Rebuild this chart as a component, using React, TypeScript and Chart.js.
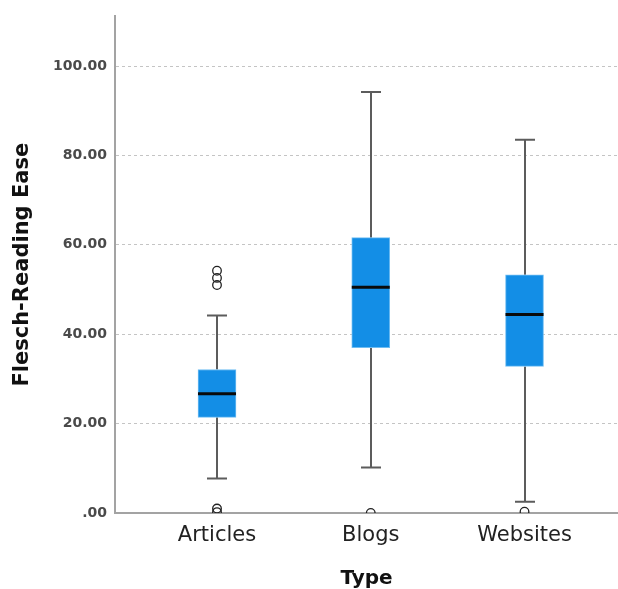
import React, { useEffect, useRef } from 'react';
import { Chart, registerables } from 'chart.js';

Chart.register(...registerables);

const categories = ['Articles', 'Blogs', 'Websites'];
const whiskerLow = [7.7, 10.2, 2.5];
const q1 = [21.4, 37.0, 32.8];
const median = [26.7, 50.5, 44.4];
const q3 = [32.1, 61.6, 53.3];
const whiskerHigh = [44.2, 94.2, 83.5];
const outliersArticles = [54.2, 52.6, 51.0, 1.0, 0.2];
const outliersBlogs = [0.0];
const outliersWebsites = [0.3];
const yTicks = [0, 20, 40, 60, 80, 100];
const yMax = 111.1;

const FONT = '"DejaVu Sans", sans-serif';

const boxPlugin = {
  id: 'boxWhiskers',
  beforeDatasetsDraw(chart: any) {
    const { ctx, scales } = chart;
    const x = scales.x;
    const y = scales.y;
    ctx.save();
    ctx.strokeStyle = '#5c5c5c';
    ctx.lineWidth = 2;
    categories.forEach((_, i) => {
      const px = Math.round(x.getPixelForValue(i + 1));
      const yHi = y.getPixelForValue(whiskerHigh[i]);
      const yQ3 = y.getPixelForValue(q3[i]);
      const yQ1 = y.getPixelForValue(q1[i]);
      const yLo = y.getPixelForValue(whiskerLow[i]);
      ctx.beginPath();
      ctx.moveTo(px, yQ3);
      ctx.lineTo(px, yHi);
      ctx.moveTo(px - 10, yHi);
      ctx.lineTo(px + 10, yHi);
      ctx.moveTo(px, yQ1);
      ctx.lineTo(px, yLo);
      ctx.moveTo(px - 10, yLo);
      ctx.lineTo(px + 10, yLo);
      ctx.stroke();
    });
    ctx.restore();
  },
  afterDatasetsDraw(chart: any) {
    const { ctx, scales } = chart;
    const x = scales.x;
    const y = scales.y;
    ctx.save();
    ctx.strokeStyle = '#0a0a0a';
    ctx.lineWidth = 3;
    categories.forEach((_, i) => {
      const px = x.getPixelForValue(i + 1);
      const ym = y.getPixelForValue(median[i]);
      ctx.beginPath();
      ctx.moveTo(px - 19, ym);
      ctx.lineTo(px + 19, ym);
      ctx.stroke();
    });
    ctx.restore();
  },
};

export default function App() {
  const ref = useRef<HTMLCanvasElement | null>(null);

  useEffect(() => {
    if (!ref.current) return;
    const outlierPoints = [
      ...outliersArticles.map((v) => ({ x: 1, y: v })),
      ...outliersBlogs.map((v) => ({ x: 2, y: v })),
      ...outliersWebsites.map((v) => ({ x: 3, y: v })),
    ];
    const chart = new Chart(ref.current, {
      type: 'bar',
      data: {
        datasets: [
          {
            type: 'bar',
            data: categories.map((_, i) => ({ x: i + 1, y: [q1[i], q3[i]] })) as any,
            backgroundColor: '#138ee6',
            borderColor: '#6fbdf2',
            borderWidth: 1,
            borderSkipped: false,
            barThickness: 38,
            order: 2,
          } as any,
          {
            type: 'scatter',
            data: outlierPoints,
            pointStyle: 'circle',
            pointRadius: 4.3,
            pointBorderWidth: 1.3,
            pointBorderColor: '#222',
            pointBackgroundColor: 'rgba(255,255,255,0)',
            clip: 0,
            order: 1,
          } as any,
        ],
      },
      options: {
        responsive: false,
        animation: false,
        layout: { autoPadding: false, padding: { top: 13, right: 0, left: 0, bottom: 0 } },
        plugins: { legend: { display: false }, tooltip: { enabled: false } },
        scales: {
          x: {
            type: 'linear',
            offset: false,
            min: 0.3366,
            max: 3.608,
            afterBuildTicks: (scale: any) => {
              scale.ticks = categories.map((_, i) => ({ value: i + 1 }));
            },
            afterFit: (scale: any) => {
              scale.height = 76;
              scale.paddingLeft = 0;
              scale.paddingRight = 0;
            },
            grid: { display: false, drawTicks: false, offset: false },
            border: { display: true, color: '#a3a3a3', width: 2 },
            ticks: {
              padding: 10,
              color: '#222',
              font: { family: FONT, size: 21 },
              callback: (v: any) => categories[Number(v) - 1] ?? '',
              maxRotation: 0,
            },
            title: {
              display: true,
              text: 'Type',
              color: '#111',
              font: { family: FONT, size: 20, weight: 'bold', lineHeight: 1 },
              padding: { top: 0, bottom: 0 },
            },
          },
          y: {
            type: 'linear',
            min: 0,
            max: yMax,
            afterBuildTicks: (scale: any) => {
              scale.ticks = yTicks.map((v) => ({ value: v }));
            },
            afterFit: (scale: any) => {
              scale.width = 115;
            },
            grid: { color: '#c4c4c4', lineWidth: 1, drawTicks: false },
            border: { display: true, color: '#a3a3a3', width: 2, dash: [3, 3] },
            ticks: {
              padding: 8,
              color: '#4a4a4a',
              font: { family: FONT, size: 14, weight: 'bold' },
              callback: (v: any) => (Number(v) === 0 ? '.00' : Number(v).toFixed(2)),
            },
            title: {
              display: true,
              text: 'Flesch-Reading Ease',
              color: '#111',
              font: { family: FONT, size: 21, weight: 'bold' },
              padding: { top: 10, bottom: 0 },
            },
          },
        },
      } as any,
      plugins: [boxPlugin],
    });
    return () => chart.destroy();
  }, []);

  return (
    <div style={{ position: 'fixed', left: 0, top: 0, width: 618, height: 589, background: '#fff' }}>
      <canvas ref={ref} width={618} height={589} style={{ display: 'block' }} />
    </div>
  );
}
